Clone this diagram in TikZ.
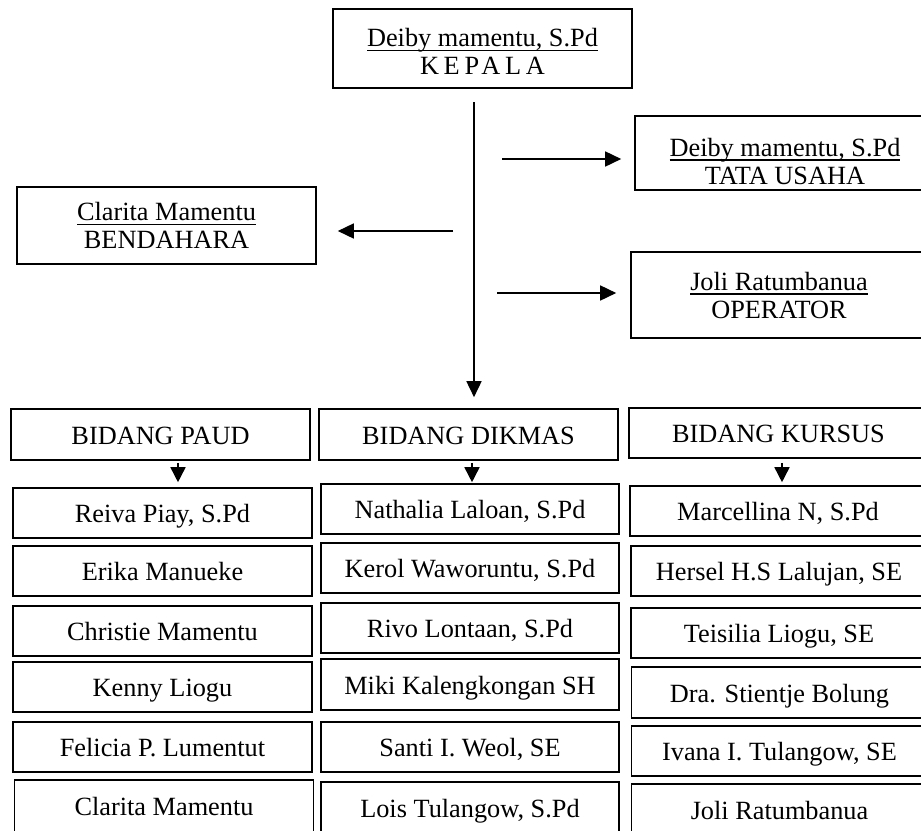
\documentclass[tikz,border=0pt]{standalone}
\usepackage{fontspec}
\setmainfont{Liberation Serif}
\newcommand\myul[1]{\setbox0\hbox{#1}\rlap{\raisebox{-4.6pt}{\rule{\wd0}{1.4pt}}}\box0}
\usetikzlibrary{arrows.meta}
\tikzset{
  box/.style={draw=black, line width=1.6pt, inner sep=0pt, align=center,
    font=\fontsize{26.3}{28}\selectfont, text depth=0pt},
  onebox/.style={box, text height=19pt},
  pbox/.style={onebox, minimum width=299pt, minimum height=50pt},
  dbox/.style={onebox, minimum width=298pt, minimum height=50pt},
  kbox/.style={onebox, minimum width=296pt, minimum height=50pt},
  arr/.style={line width=1.6pt, -{Triangle[length=16pt,width=15pt]}},
  sarr/.style={line width=1.6pt, -{Triangle[length=15pt,width=15pt]}},
}
\begin{document}
\begin{tikzpicture}[x=1pt,y=-1pt]
\useasboundingbox (0,0) rectangle (921,830);
\fill[white] (0,0) rectangle (921,830);

% top boxes
\node[box, minimum width=299pt, minimum height=79pt] (kepala) at (482.5,48.5)
  {\rule{0pt}{24pt}\myul{Deiby mamentu, S.Pd}\\{\addfontfeatures{LetterSpace=18}KEPALA}};
\node[box, minimum width=300pt, minimum height=74pt] (tu) at (785,153)
  {\rule{0pt}{34pt}\myul{Deiby mamentu, S.Pd}\\TATA USAHA};
\node[box, minimum width=296pt, minimum height=86pt] (op) at (779,295)
  {\myul{Joli Ratumbanua}\\OPERATOR};
\node[box, minimum width=299pt, minimum height=77pt] (bend) at (166.5,225.5)
  {\myul{Clarita Mamentu}\\BENDAHARA};

% bidang headers
\node[onebox, minimum width=299pt, minimum height=51pt] (paud) at (160.5,434.5) {BIDANG PAUD};
\node[onebox, minimum width=299pt, minimum height=51pt] (dikmas) at (468.5,434.5) {BIDANG DIKMAS};
\node[onebox, minimum width=299pt, minimum height=50pt] (kursus) at (778.5,433) {BIDANG KURSUS};

% PAUD members
\node[pbox] (p1) at (162.5,513) {Reiva Piay, S.Pd};
\node[pbox] (p2) at (162.5,571) {Erika Manueke};
\node[pbox] (p3) at (162.5,631) {Christie Mamentu};
\node[pbox] (p4) at (162.5,687) {Kenny Liogu};
\node[pbox] (p5) at (162.5,747) {Felicia P. Lumentut};
\node[pbox, minimum height=52pt] (p6) at (164,806) {Clarita Mamentu};

% DIKMAS members
\node[dbox] (d1) at (470,509) {Nathalia Laloan, S.Pd};
\node[dbox] (d2) at (470,568) {Kerol Waworuntu, S.Pd};
\node[dbox] (d3) at (470,628) {Rivo Lontaan, S.Pd};
\node[dbox, minimum height=51pt] (d4) at (470,684.5) {Miki Kalengkongan SH};
\node[dbox] (d5) at (470,747) {Santi I. Weol, SE};
\node[dbox, minimum height=52pt] (d6) at (470,808) {Lois Tulangow, S.Pd};

% KURSUS members
\node[kbox] (k1) at (778,511) {Marcellina N, S.Pd};
\node[kbox] (k2) at (779,571) {Hersel H.S Lalujan, SE};
\node[kbox] (k3) at (779,633) {Teisilia Liogu, SE};
\node[kbox, minimum height=51pt] (k4) at (779.5,692.5) {Dra. Stientje Bolung};
\node[kbox] (k5) at (779.5,751) {Ivana I. Tulangow, SE};
\node[kbox, minimum height=52pt] (k6) at (779.5,810) {Joli Ratumbanua};

% main connectors
\coordinate (vtop) at (474,102);
\draw[arr, shorten >=11pt] (vtop) -- (vtop |- dikmas.north);
\coordinate (atu) at (502,159);
\draw[arr, shorten >=13pt] (atu) -- (atu -| tu.west);
\coordinate (aop) at (497,293);
\draw[arr, shorten >=14pt] (aop) -- (aop -| op.west);
\coordinate (abe) at (453,231);
\draw[arr, shorten >=21pt] (abe) -- (abe -| bend.east);

% small arrows
\draw[sarr, shorten <=2pt, shorten >=5pt] ([xshift=17.5pt]paud.south) -- ([xshift=17.5pt]paud.south |- p1.north);
\draw[sarr, shorten <=2pt, shorten >=1pt] ([xshift=3.5pt]dikmas.south) -- ([xshift=3.5pt]dikmas.south |- d1.north);
\draw[sarr, shorten <=4pt, shorten >=3pt] ([xshift=3.5pt]kursus.south) -- ([xshift=3.5pt]kursus.south |- k1.north);
\end{tikzpicture}
\end{document}
